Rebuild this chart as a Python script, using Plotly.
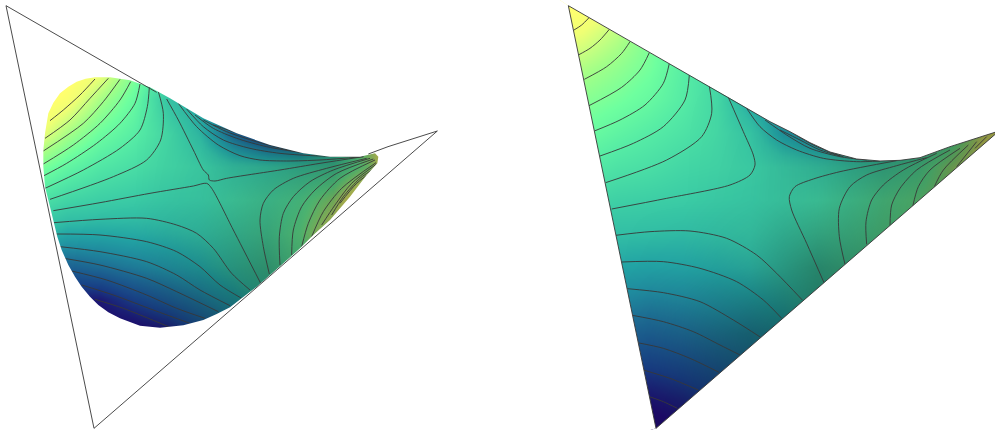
import plotly.graph_objects as go

# Units: picture coordinates at 3x, measured inside each panel.
GRID_X = [0, 100, 200, 300, 400, 500, 600, 700, 800, 900, 1000, 1100, 1200, 1300, 1400]

RIGHT_Y = [0, 100, 200, 300, 400, 500, 600, 700, 800, 900, 1000, 1100, 1200, 1300]
RIGHT_Z = [
    [16.5, 16.2, 15.5, 14, 12, 10, 8, 6, 5, 4, 4, 4, 4, 4, 4],
    [15.6, 14.9, 13.7, 12.1, 10.4, 8.7, 7.3, 6, 5, 4, 4, 4, 4, 4, 4],
    [14, 13.4, 12.6, 11.7, 10.2, 8.7, 7.3, 6, 5, 4, 4, 4, 4, 4, 4],
    [12.9, 12.3, 11.7, 11.0, 10.0, 8.7, 6, 5, 4.5, 4, 4, 4, 4, 4, 4],
    [11.8, 11.3, 10.6, 10, 9.4, 8.7, 7.5, 5.5, 4.5, 4.5, 5, 7, 10, 15, 17],
    [10.2, 10, 9.4, 9.1, 8.6, 8.4, 8.0, 7.7, 7.5, 7.8, 8.5, 10.1, 13.2, 16, 18],
    [8.9, 8.6, 8.2, 8.05, 7.9, 7.8, 7.7, 7.9, 8.4, 9.2, 10.5, 11.8, 13.5, 16, 18],
    [7.8, 7.5, 7.05, 7.0, 6.9, 7.1, 7.4, 7.6, 8.4, 9.4, 10.8, 12, 13.5, 15, 17],
    [6.6, 6.3, 5.95, 5.85, 5.95, 6.2, 6.6, 7.2, 8, 9.4, 10.5, 12, 13.5, 15, 17],
    [5.2, 5, 4.8, 4.65, 4.9, 5.3, 5.75, 6.4, 7.5, 9, 10.5, 12, 13.5, 15, 17],
    [3.8, 3.6, 3.5, 3.45, 3.85, 4.4, 4.85, 5.6, 7, 8.5, 10, 12, 13.5, 15, 17],
    [2.6, 2.4, 2.3, 2.2, 2.6, 3.2, 4, 5, 6.5, 8, 10, 12, 13.5, 15, 17],
    [1.4, 1.2, 1.0, 0.9, 1.4, 2.2, 3, 4, 5.5, 7, 9, 11, 13, 15, 17],
    [0.4, 0.2, 0, -0.1, 0.4, 1.2, 2, 3, 4.5, 6, 8, 10, 12, 14, 16],
]

LEFT_Y = [100, 200, 300, 400, 500, 600, 700, 800, 900, 1000, 1100]
LEFT_Z = [
    [20, 20, 20, 18, 15, 12, 9, 7, 5, 3, 3, 3, 3, 3, 3],
    [19, 18, 17, 15.5, 12.5, 9, 6, 4, 3, 3, 3, 3, 3, 3, 3],
    [18.5, 17, 15.6, 13.2, 11.2, 7.6, 5.5, 4, 3, 3, 3, 3, 3, 3, 3],
    [17, 15.5, 13.2, 11.4, 10.2, 8.7, 6.8, 3.8, 1.5, 1, 5, 14, 20, 20, 20],
    [13.5, 12.3, 10.8, 9.7, 9.1, 8.5, 8.05, 7.4, 7.5, 8, 9, 12.5, 20, 20, 20],
    [10.8, 9.6, 8.55, 8.1, 7.85, 7.7, 7.75, 8.5, 9, 10.5, 13.2, 19, 20, 20, 20],
    [7.5, 7, 6.05, 6.1, 6.3, 6.6, 7.1, 8, 9.3, 11.6, 16, 20, 20, 20, 20],
    [3.8, 3.6, 3.5, 3.95, 4.5, 5.2, 6, 7.3, 8.9, 11, 14, 18, 20, 20, 20],
    [0.5, 0.8, 1, 1.1, 2.2, 3.2, 4.25, 5.6, 7.5, 10, 13, 17, 20, 20, 20],
    [0, 0, 0, 0, 0.2, 0.8, 2.5, 4, 6, 9, 12, 16, 20, 20, 20],
    [0, 0, 0, 0, 0, 0.5, 2, 3.5, 5.5, 8, 11, 15, 20, 20, 20],
]

SHADE_X = [0, 200, 400, 600, 800, 1000, 1200, 1400]
SHADE_Y = [0, 200, 400, 600, 800, 1000, 1200, 1400]
RIGHT_SHADE = [
    [0, 0, 0, 0, 0, 0, 0, 0],
    [0, 0, 0, 0, 0, 0, 0, 0],
    [0, 0, 0, .02, .12, .28, .4, .42],
    [0, 0, 0, .03, .12, .32, .42, .45],
    [0, 0, .02, .1, .35, .42, .45, .45],
    [0, 0, .1, .3, .42, .45, .45, .45],
    [0, 0, .15, .32, .42, .45, .45, .45],
    [0, 0, .15, .32, .42, .45, .45, .45],
]
LEFT_SHADE = [
    [0, 0, 0, 0, 0, 0, 0, 0],
    [0, 0, 0, 0, 0, 0, 0, 0],
    [0, 0, 0, .03, .12, .3, .4, .4],
    [0, 0, 0, .05, .2, .35, .25, .25],
    [0, 0, .02, .15, .35, .35, .3, .3],
    [0, 0, .05, .2, .35, .35, .3, .3],
    [0, 0, .05, .2, .35, .35, .3, .3],
    [0, 0, .05, .2, .35, .35, .3, .3],
]

COLORS = [
    (0, "#1e0866"), (0.6, "#1e0b70"), (1.3, "#1c2079"), (2.2, "#194088"), (4, "#1e6e96"), (5, "#208ca0"),
    (6, "#23a5a5"), (7, "#32bea5"), (8, "#3ccda5"), (10, "#55eba5"), (11.5, "#6eff9f"), (13, "#a0ff88"),
    (14, "#c8ff80"), (15, "#f0ff74"), (16, "#ffff6e"), (16.5, "#ffff6e"),
]

# Isolines.
RIGHT_LINES = [
    [(118, 52), (95, 75), (72, 90)],
    [(178, 88), (150, 120), (120, 145), (85, 165)],
    [(240, 125), (215, 160), (170, 200), (103, 238)],
    [(298, 158), (270, 210), (215, 262), (117, 317)],
    [(358, 190), (340, 250), (285, 315), (210, 360), (133, 393)],
    [(418, 225), (405, 300), (340, 380), (250, 430), (150, 468)],
    [(478, 258), (485, 340), (455, 410), (350, 480), (167, 548)],
    [(535, 292), (580, 395), (610, 465), (615, 495), (600, 525), (540, 555), (350, 595), (185, 627)],
    [(197, 706), (300, 695), (420, 693), (530, 715), (620, 765), (680, 820), (757, 900)],
    [(215, 786), (340, 785), (450, 805), (560, 845), (640, 900), (695, 955)],
    [(232, 866), (340, 878), (450, 905), (550, 960), (632, 1012)],
    [(247, 946), (340, 965), (430, 995), (510, 1035), (570, 1065)],
    [(262, 1028), (340, 1045), (420, 1075), (507, 1117)],
    [(280, 1110), (360, 1135), (445, 1170)],
    [(298, 1190), (340, 1205), (382, 1225)],
    [(822, 848), (770, 730), (725, 630), (718, 590), (735, 560), (790, 537), (870, 515), (1040, 482)],
    [(885, 793), (868, 710), (868, 625), (900, 560), (950, 525), (1040, 497), (1130, 473)],
    [(950, 733), (948, 665), (965, 600), (1000, 555), (1060, 510), (1160, 460)],
    [(1020, 677), (1025, 615), (1050, 565), (1100, 510), (1200, 450)],
    [(1088, 620), (1105, 560), (1140, 510), (1230, 445)],
    [(1153, 560), (1180, 510), (1255, 435)],
    [(1220, 500), (1280, 425)],
    [(1275, 445), (1310, 410)],
    [(590, 325), (630, 380), (680, 420), (740, 450), (820, 475), (920, 485), (990, 483)],
    [(645, 360), (710, 405), (780, 445), (870, 470), (950, 480)],
    [(690, 390), (750, 420), (810, 450), (880, 470)],
    [(730, 400), (790, 435), (870, 468)],
]
LEFT_LINES = [
    [(285, 237), (240, 285), (190, 330), (150, 362)],
    [(325, 235), (270, 295), (210, 360), (135, 415)],
    [(360, 238), (310, 305), (250, 370), (130, 453)],
    [(392, 245), (360, 300), (300, 370), (220, 435), (130, 492)],
    [(420, 252), (405, 310), (360, 370), (290, 430), (200, 490), (130, 528)],
    [(448, 262), (442, 320), (420, 390), (360, 445), (250, 510), (135, 565)],
    [(475, 275), (490, 340), (482, 420), (440, 480), (340, 530), (150, 598)],
    [(500, 297), (535, 360), (580, 450), (610, 510), (625, 525), (628, 540), (645, 543), (680, 535),
     (840, 510), (960, 490), (1090, 470)],
    [(160, 632), (300, 608), (450, 580), (580, 558), (620, 550), (635, 565), (700, 690), (782, 850)],
    [(162, 668), (300, 658), (440, 655), (530, 675), (590, 700), (640, 745), (695, 820), (750, 870)],
    [(168, 702), (300, 705), (440, 725), (530, 755), (600, 800), (660, 855), (725, 895)],
    [(180, 740), (300, 755), (440, 785), (530, 825), (600, 870), (690, 917)],
    [(192, 775), (300, 795), (440, 835), (530, 875), (655, 935)],
    [(215, 813), (320, 840), (440, 885), (530, 925), (615, 955)],
    [(245, 855), (340, 885), (460, 930), (570, 970)],
    [(285, 898), (370, 925), (510, 982)],
    [(808, 822), (790, 740), (780, 660), (790, 610), (820, 570), (880, 535), (980, 505), (1100, 475)],
    [(840, 795), (838, 710), (850, 640), (880, 590), (930, 545), (1000, 510), (1110, 475)],
    [(875, 765), (880, 690), (905, 620), (945, 570), (1010, 520), (1120, 477)],
    [(905, 740), (925, 670), (960, 600), (1020, 535), (1125, 480)],
    [(935, 710), (970, 635), (1025, 565), (1128, 488)],
    [(965, 675), (1005, 615), (1055, 550), (1130, 492)],
    [(995, 645), (1030, 590), (1080, 535), (1132, 500)],
    [(1020, 610), (1070, 550), (1130, 505)],
    [(535, 310), (590, 380), (655, 435), (720, 467), (780, 480), (860, 483), (960, 480), (1090, 470)],
    [(560, 327), (610, 380), (670, 420), (750, 445), (840, 460), (960, 468), (1080, 469)],
    [(585, 345), (640, 385), (710, 415), (800, 440), (910, 458), (1070, 469)],
    [(610, 360), (680, 395), (770, 425), (880, 453), (1010, 468)],
    [(640, 375), (730, 405), (830, 433), (930, 458), (990, 467)],
]

RIGHT_TOP_EDGE = [(55, 17), (300, 158), (540, 295), (600, 330), (660, 365), (720, 395), (780, 428),
                  (840, 456), (920, 477), (990, 483), (1050, 481), (1110, 473), (1200, 440), (1347, 393)]
RIGHT_BOTTOM = (318, 1285)
LEFT_SURFACE = [(285, 232), (330, 232), (390, 241), (450, 262), (510, 295), (610, 355), (710, 400), (810, 435),
                (910, 460), (990, 470), (1080, 470), (1125, 460), (1135, 470), (1132, 490), (1100, 525),
                (1050, 590), (990, 660), (940, 705), (900, 745), (850, 790), (770, 860), (750, 875), (690, 922),
                (650, 942), (610, 960), (550, 976), (480, 983), (420, 977), (360, 955), (325, 937), (295, 915),
                (270, 890), (245, 860), (225, 830), (205, 795), (185, 750), (172, 710), (162, 670), (150, 620),
                (135, 560), (130, 500), (130, 450), (135, 400), (145, 340), (160, 308), (180, 280), (205, 260),
                (230, 245), (257, 236)]
LEFT_FRAME_A = [(18, 17), (264, 158), (470, 277)]
LEFT_FRAME_B = [(1105, 462), (1164, 440), (1312, 393), (282, 1285), (18, 17)]

LINE = "rgba(55,55,55,0.9)"
scale = [[v / 16.5, c] for v, c in COLORS]
shade_scale = [[0, "rgba(0,0,0,0)"], [1, "rgba(0,0,0,1)"]]


def xs(pts):
    return [p[0] for p in pts]


def ys(pts):
    return [p[1] for p in pts]


def panel(fig, ax, ay, y_grid, z, shade, lines, masks, frames):
    fig.add_trace(go.Heatmap(x=GRID_X, y=y_grid, z=z, zmin=0, zmax=16.5, colorscale=scale, zsmooth="best",
                             showscale=False, hoverinfo="skip", xaxis=ax, yaxis=ay))
    fig.add_trace(go.Heatmap(x=SHADE_X, y=SHADE_Y, z=shade, zmin=0, zmax=1, colorscale=shade_scale, zsmooth="best",
                             showscale=False, hoverinfo="skip", xaxis=ax, yaxis=ay))
    for pts in lines:
        fig.add_trace(go.Scatter(x=xs(pts), y=ys(pts), mode="lines", hoverinfo="skip", xaxis=ax, yaxis=ay,
                                 line=dict(color=LINE, width=1, shape="spline", smoothing=0.8)))
    for pts in masks:
        fig.add_trace(go.Scatter(x=xs(pts), y=ys(pts), mode="lines", fill="toself", fillcolor="white",
                                 line=dict(width=0), hoverinfo="skip", xaxis=ax, yaxis=ay))
    for pts in frames:
        fig.add_trace(go.Scatter(x=xs(pts), y=ys(pts), mode="lines", hoverinfo="skip", xaxis=ax, yaxis=ay,
                                 line=dict(color=LINE, width=1)))


fig = go.Figure()

# Left: white all round the curved surface (a single keyhole outline).
outer = [(-60, -60), (1500, -60), (1500, 1400), (-60, 1400), (-60, -60)]
left_mask = outer + [LEFT_SURFACE[0]] + LEFT_SURFACE[::-1] + [LEFT_SURFACE[0], (-60, -60)]
panel(fig, "x", "y", LEFT_Y, LEFT_Z, LEFT_SHADE, LEFT_LINES, [left_mask], [LEFT_FRAME_A, LEFT_FRAME_B])

# Right: white outside the three edges.
top = RIGHT_TOP_EDGE
right_masks = [
    [(-60, -60), top[0], RIGHT_BOTTOM, (-60, 1400)],
    [RIGHT_BOTTOM, top[-1], (1500, 393), (1500, 1400), (-60, 1400)],
    [(-60, -60), (1500, -60), (1500, 393)] + top[::-1],
]
panel(fig, "x2", "y2", RIGHT_Y, RIGHT_Z, RIGHT_SHADE, RIGHT_LINES, right_masks,
      [top, [top[-1], RIGHT_BOTTOM, top[0]]])

axis = dict(visible=False, fixedrange=True)
fig.update_layout(
    width=995, height=430, margin=dict(l=0, r=0, t=0, b=0), showlegend=False,
    paper_bgcolor="white", plot_bgcolor="white",
    xaxis=dict(axis, domain=[0, 450 / 995], range=[0, 1350]),
    yaxis=dict(axis, domain=[0, 1], range=[1290, 0]),
    xaxis2=dict(axis, domain=[550 / 995, 1], range=[0, 1335]),
    yaxis2=dict(axis, domain=[0, 1], range=[1290, 0]),
)
fig.write_html("out.html", config={"displayModeBar": False},
               post_script="document.body.style.margin='0';document.documentElement.style.overflow='hidden';")
